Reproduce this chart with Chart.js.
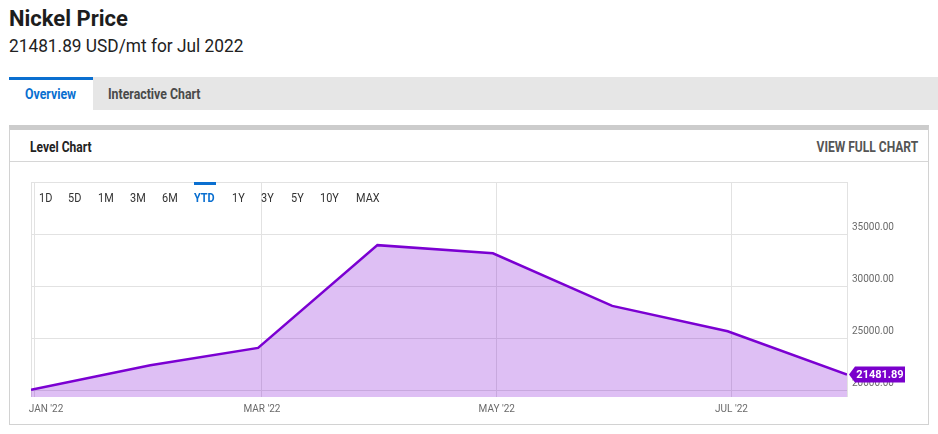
<!DOCTYPE html>
<html>
<head>
<meta charset="utf-8">
<title>Nickel Price</title>
<script src="https://cdn.jsdelivr.net/npm/chart.js@4/dist/chart.umd.min.js"></script>
<style>
  html, body { margin: 0; padding: 0; background: #fff; }
  body { width: 938px; height: 434px; position: relative; overflow: hidden; font-family: Roboto, "Noto Sans", sans-serif; color: #222; }
  .abs { position: absolute; white-space: nowrap; }
  .cond { transform-origin: left center; }
  #title { left: 9px; top: 6px; font-size: 22px; font-weight: 700; line-height: 26px; color: #1d1d1d; }
  #subtitle { left: 9px; top: 34px; font-size: 19px; line-height: 24px; color: #222; transform: scaleX(0.91); transform-origin: left center; }
  #tabs { left: 9px; top: 77px; width: 929px; height: 33px; background: #e6e6e6; }
  #tab-overview { left: 9px; top: 77px; width: 84px; height: 30px; background: #fff; border-top: 3px solid #0a6fd0; }
  .tab-text { font-size: 14px; font-weight: 700; line-height: 16px; transform: scaleX(0.88); transform-origin: left center; }
  #card { left: 9px; top: 125px; width: 918px; height: 294px; border: 1px solid #d2d2d2; border-top: 5px solid #cccccc; }
  #card-divider { left: 10px; top: 161px; width: 918px; height: 1px; background: #d6d6d6; }
  .head-text { font-size: 14px; font-weight: 700; line-height: 16px; top: 139px; }
  #chart-wrap { left: 0; top: 0; width: 938px; height: 434px; }
  .range { top: 190px; font-size: 13px; line-height: 16px; color: #333; transform: scaleX(0.84); transform-origin: left center; }
  .range.active { color: #0a6fd0; font-weight: 700; }
  #ytd-bar { left: 194px; top: 182px; width: 22px; height: 3px; background: #0a6fd0; }
</style>
</head>
<body>
<div class="abs" id="title">Nickel Price</div>
<div class="abs" id="subtitle">21481.89 USD/mt for Jul 2022</div>

<div class="abs" id="tabs"></div>
<div class="abs" id="tab-overview"></div>
<div class="abs tab-text" style="left:25px; top:86px; color:#0a6fd0;">Overview</div>
<div class="abs tab-text" style="left:108px; top:86px; color:#4a4a4a;">Interactive Chart</div>

<div class="abs" id="card"></div>
<div class="abs" id="card-divider"></div>
<div class="abs head-text" style="left:30px; color:#222; transform:scaleX(0.86); transform-origin:left center;">Level Chart</div>
<div class="abs head-text" style="right:20px; color:#555; transform:scaleX(0.86); transform-origin:right center;">VIEW FULL CHART</div>

<div class="abs" id="chart-wrap"><canvas id="chart-nickel" width="938" height="434"></canvas></div>

<div class="abs" id="ytd-bar"></div>
<div id="ranges"></div>

<script>
// monthly nickel price, USD/mt (month-end points)
const priceDates = ["2021-12-31", "2022-01-31", "2022-02-28", "2022-03-31", "2022-04-30", "2022-05-31", "2022-06-30", "2022-07-31"];
const priceValues = [20020, 22390, 24050, 33930, 33150, 28090, 25650, 21481.89];

// axis ticks
const monthTickDates = ["2022-01-01", "2022-03-01", "2022-05-01", "2022-07-01"];
const monthTickLabels = ["JAN '22", "MAR '22", "MAY '22", "JUL '22"];
const priceTicks = [20000, 25000, 30000, 35000, 40000];

// range buttons over the chart
const rangeLabels = ["1D", "5D", "1M", "3M", "6M", "YTD", "1Y", "3Y", "5Y", "10Y", "MAX"];
const rangeLeft = [39, 68, 98, 130, 162, 194, 232, 261, 291, 320, 356];
const activeRange = "YTD";

const palette = {
  line: "#7b00d2",
  fill: "rgba(123, 0, 210, 0.25)",
  grid: "#e2e2e2",
  tick: "#6a6a6a",
  tag: "#7a00cc",
};

const DAY_MS = 86400000;
const yearStart = Date.parse("2022-01-01");
function dayOf(d) {
  return Math.round((Date.parse(d) - yearStart) / DAY_MS);
}

const days = priceDates.map(dayOf);
const tickDays = monthTickDates.map(dayOf);
const xMin = days[0];
const xMax = days[days.length - 1];

const ranges = document.getElementById("ranges");
rangeLabels.forEach((r, i) => {
  const el = document.createElement("div");
  el.className = "abs range" + (r === activeRange ? " active" : "");
  el.style.left = rangeLeft[i] + "px";
  el.textContent = r;
  ranges.appendChild(el);
});

const lastValueTag = {
  id: "lastValueTag",
  afterDatasetsDraw(chart) {
    const { ctx, scales } = chart;
    const x = scales.x.getPixelForValue(days[days.length - 1]);
    const y = scales.y.getPixelForValue(priceValues[priceValues.length - 1]);
    const h = 16;
    ctx.save();
    ctx.fillStyle = palette.tag;
    ctx.beginPath();
    ctx.moveTo(x + 2, y);
    ctx.lineTo(x + 8, y - h / 2);
    ctx.lineTo(x + 58, y - h / 2);
    ctx.lineTo(x + 58, y + h / 2);
    ctx.lineTo(x + 8, y + h / 2);
    ctx.closePath();
    ctx.fill();
    ctx.fillStyle = "#ffffff";
    ctx.font = "700 11px Roboto";
    ctx.textAlign = "center";
    ctx.textBaseline = "middle";
    ctx.fillText(priceValues[priceValues.length - 1].toFixed(2), x + 33, y + 0.5);
    ctx.restore();
  },
};

new Chart(document.getElementById("chart-nickel"), {
  type: "line",
  data: {
    datasets: [
      {
        label: "Nickel Price",
        data: days.map((d, i) => ({ x: d, y: priceValues[i] })),
        borderColor: palette.line,
        backgroundColor: palette.fill,
        borderWidth: 2.5,
        pointRadius: 0,
        tension: 0,
        fill: "start",
      },
    ],
  },
  options: {
    responsive: false,
    animation: false,
    events: [],
    layout: { padding: { left: 31, top: 182, right: 0, bottom: 0 } },
    plugins: { legend: { display: false }, tooltip: { enabled: false } },
    scales: {
      x: {
        type: "linear",
        min: xMin,
        max: xMax,
        afterBuildTicks(scale) {
          scale.ticks = [xMin, ...tickDays, xMax].map((v) => ({ value: v }));
        },
        afterFit(scale) {
          scale.height = 37;
        },
        ticks: {
          autoSkip: false,
          maxRotation: 0,
          padding: 6,
          color: palette.tick,
          font: { family: "Roboto", size: 10 },
          callback(value) {
            const i = tickDays.indexOf(value);
            if (i < 0) return "";
            // first label sits flush with the left edge of the plot
            return i === 0 ? "\u2007\u2007\u2007\u2007" + monthTickLabels[i] : monthTickLabels[i];
          },
        },
        grid: { color: palette.grid, drawTicks: false },
        border: { display: false },
      },
      y: {
        position: "right",
        min: 19330,
        max: 40000,
        afterBuildTicks(scale) {
          scale.ticks = priceTicks.map((v) => ({ value: v }));
        },
        afterFit(scale) {
          scale.width = 91;
        },
        ticks: {
          padding: 5,
          labelOffset: -7,
          color: palette.tick,
          font: { family: "Roboto", size: 10 },
          callback: (v) => (v === priceTicks[priceTicks.length - 1] ? "" : v.toFixed(2)),
        },
        grid: { color: palette.grid, drawTicks: false },
        border: { display: false },
      },
    },
  },
  plugins: [lastValueTag],
});
</script>
</body>
</html>
